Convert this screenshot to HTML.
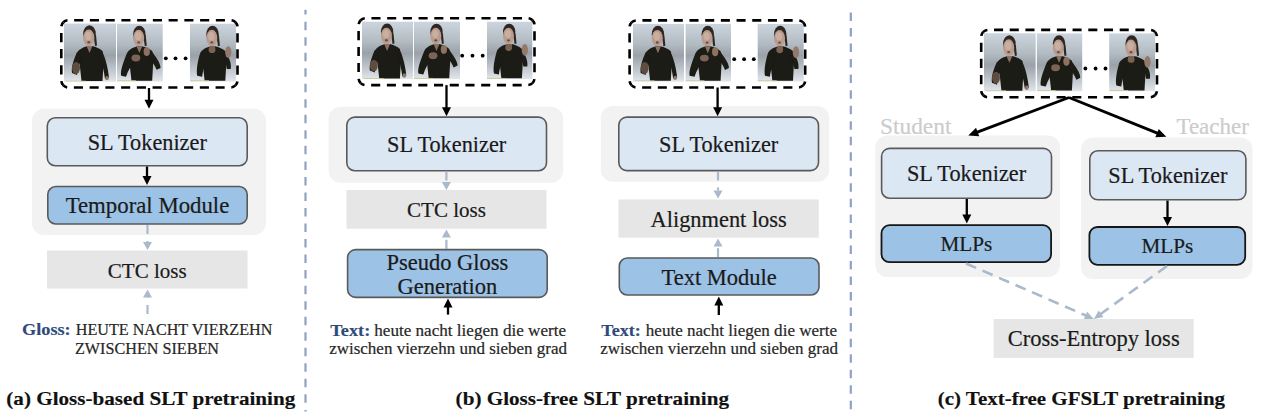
<!DOCTYPE html><html><head><meta charset="utf-8"><style>html,body{margin:0;padding:0;background:#fff;width:1268px;height:417px;overflow:hidden}svg text{font-family:"Liberation Serif",serif}</style></head><body>
<svg width="1268" height="417" viewBox="0 0 1268 417" style="display:block">
<defs>
<filter id="bl" x="-5%" y="-5%" width="110%" height="110%"><feGaussianBlur stdDeviation="0.45"/></filter>
<linearGradient id="bg" x1="0" y1="0" x2="0" y2="1">
<stop offset="0" stop-color="#cdd5de"/><stop offset="0.35" stop-color="#b2bac2"/><stop offset="0.55" stop-color="#9aa1a8"/><stop offset="0.8" stop-color="#c0c7ce"/><stop offset="1" stop-color="#e2e7eb"/>
</linearGradient>
<g id="body">
<rect x="0" y="0" width="52" height="59" fill="url(#bg)"/>
<ellipse cx="25.5" cy="10.8" rx="6.3" ry="8.6" fill="#2e2822"/>
<path d="M29.5 12 L31 23 L33 22.5 L32 12Z" fill="#2e2822"/>
<ellipse cx="24.8" cy="14.8" rx="5.6" ry="8.4" fill="#b99c8d"/>
<ellipse cx="24.3" cy="12.8" rx="3.2" ry="4.2" fill="#c8afa1"/>
<ellipse cx="24.8" cy="19.2" rx="1.5" ry="1.2" fill="#6a5048"/>
<path d="M13 30 C15 26 20 24 23.5 23 L28 23 C32 24 36 25.5 38.5 28 L39.5 40 L38.5 58 L17.5 58 L16 44Z" fill="#1d1a13"/>
<path d="M22.5 23 L25.5 30 L28.5 23Z" fill="#8c7262"/>
<rect x="2" y="57.6" width="20" height="0.9" fill="#c9c79a"/>
</g>
<g id="pose1"><use href="#body"/>
<path d="M13 29 C10 36 7 44 8 50 L13 52 C14 46 15 40 17 34Z" fill="#1d1a13"/><ellipse cx="12" cy="45" rx="4" ry="6" fill="#5e4e40"/>
<path d="M38 28 C41 34 44 44 45 55 L41 56 C40 48 38 40 36 34Z" fill="#1d1a13"/><ellipse cx="43" cy="55" rx="1.8" ry="2.2" fill="#8d7a6a"/></g>
<g id="pose2"><use href="#body"/>
<path d="M13 30 C9 40 6 48 7 53 L12 54 C14 48 17 42 21 38 L18 33Z" fill="#1d1a13"/><ellipse cx="22" cy="35" rx="4.5" ry="3.5" fill="#7c6454"/>
<path d="M38 28 C42 34 47 40 47 45 L43 47 C41 42 38 38 35 35Z" fill="#1d1a13"/><ellipse cx="33" cy="28.5" rx="3.2" ry="4.5" fill="#8d7262"/></g>
<g id="pose3"><use href="#body"/>
<path d="M13 30 C10 40 9 48 10 53 L15 54 C16 46 19 38 22 33Z" fill="#1d1a13"/><ellipse cx="25" cy="26.5" rx="3.5" ry="3.5" fill="#7a6252"/>
<path d="M38 28 C42 34 45 40 44 46 L40 46 C39 40 38 36 36 34Z" fill="#1d1a13"/><ellipse cx="41.5" cy="29" rx="3.2" ry="6" fill="#94796a"/></g>
</defs>
<svg x="64.00" y="23.50" width="52.00" height="58.20" viewBox="0 0 52 59" preserveAspectRatio="xMidYMid slice"><g filter="url(#bl)"><use href="#pose1"/></g></svg>
<svg x="117.00" y="23.50" width="45.70" height="58.20" viewBox="0 0 52 59" preserveAspectRatio="xMidYMid slice"><g filter="url(#bl)"><use href="#pose2"/></g></svg>
<svg x="190.00" y="23.50" width="46.00" height="58.20" viewBox="0 0 52 59" preserveAspectRatio="xMidYMid slice"><g filter="url(#bl)"><use href="#pose3"/></g></svg>
<circle cx="165.8" cy="58.3" r="1.9" fill="#000"/>
<circle cx="175.5" cy="58.3" r="1.9" fill="#000"/>
<circle cx="185.6" cy="58.3" r="1.9" fill="#000"/>
<path d="M63.35 22.25 A7 7 0 0 1 68.3 20.2 L230.5 20.2 A7 7 0 0 1 235.44974746 22.250252539999998" fill="none" stroke="#000" stroke-width="2.6" stroke-dasharray="9.084 6.661" stroke-dashoffset="4.542"/>
<path d="M235.45 22.25 A7 7 0 0 1 237.5 27.2 L237.5 80.5 A7 7 0 0 1 235.44974746 85.44974746" fill="none" stroke="#000" stroke-width="2.6" stroke-dasharray="9.273 6.800" stroke-dashoffset="4.637"/>
<path d="M235.45 85.45 A7 7 0 0 1 230.5 87.5 L68.3 87.5 A7 7 0 0 1 63.35025254 85.44974746" fill="none" stroke="#000" stroke-width="2.6" stroke-dasharray="9.084 6.661" stroke-dashoffset="4.542"/>
<path d="M63.35 85.45 A7 7 0 0 1 61.3 80.5 L61.3 27.2 A7 7 0 0 1 63.35025254 22.250252539999998" fill="none" stroke="#000" stroke-width="2.6" stroke-dasharray="9.273 6.800" stroke-dashoffset="4.637"/>
<line x1="149" y1="88" x2="149" y2="100.8" stroke="#000" stroke-width="2.3"/>
<polygon points="144.5,99.8 153.5,99.8 149,108.8" fill="#000"/>
<rect x="32.00" y="108.70" width="234.00" height="126.30" rx="12" fill="#f2f2f2"/>
<rect x="47.30" y="117.80" width="199.90" height="47.90" rx="8" fill="#dce7f4" stroke="#5a5a5a" stroke-width="1.6"/>
<text x="147.25" y="149.75" font-size="22.3" fill="#1a1a1a" stroke="#1a1a1a" stroke-width="0.2" font-weight="normal" text-anchor="middle">SL Tokenizer</text>
<line x1="147" y1="166.5" x2="147" y2="177" stroke="#000" stroke-width="2.3"/>
<polygon points="142.5,176 151.5,176 147,185" fill="#000"/>
<rect x="47.80" y="186.50" width="199.40" height="37.50" rx="8" fill="#9cc2e5" stroke="#5a5a5a" stroke-width="1.6"/>
<text x="147.50" y="213.25" font-size="22.8" fill="#1a1a1a" stroke="#1a1a1a" stroke-width="0.2" font-weight="normal" text-anchor="middle">Temporal Module</text>
<line x1="147.5" y1="225" x2="147.5" y2="242" stroke="#aab9cc" stroke-width="2.2" stroke-dasharray="9 7"/>
<polygon points="143.0,242 152.0,242 147.5,250" fill="#aab9cc"/>
<rect x="47.00" y="250.50" width="200.50" height="38.00" rx="0" fill="#e6e6e6"/>
<text x="147.25" y="277.50" font-size="21" fill="#1a1a1a" stroke="#1a1a1a" stroke-width="0.2" font-weight="normal" text-anchor="middle">CTC loss</text>
<line x1="147.5" y1="314" x2="147.5" y2="297.5" stroke="#aab9cc" stroke-width="2.2" stroke-dasharray="9 7"/>
<polygon points="143.0,297.5 152.0,297.5 147.5,289.5" fill="#aab9cc"/>
<text x="22.1" y="334.6" font-size="16" textLength="48.6" lengthAdjust="spacingAndGlyphs" font-weight="bold" fill="#2e4a7a" stroke="#2e4a7a" stroke-width="0.15">Gloss:</text>
<text x="75.8" y="334.6" font-size="16" textLength="196.5" lengthAdjust="spacingAndGlyphs" fill="#262626" stroke="#262626" stroke-width="0.2">HEUTE NACHT VIERZEHN</text>
<text x="75" y="353.6" font-size="16" textLength="144" lengthAdjust="spacingAndGlyphs" fill="#262626" stroke="#262626" stroke-width="0.2">ZWISCHEN SIEBEN</text>
<text x="150.80" y="405.30" font-size="18.5" fill="#111" stroke="#111" stroke-width="0.15" font-weight="bold" text-anchor="middle" textLength="289" lengthAdjust="spacingAndGlyphs">(a) Gloss-based SLT pretraining</text>
<line x1="305.5" y1="9.8" x2="305.5" y2="411.4" stroke="#8fa3bf" stroke-width="2.2" stroke-dasharray="8.5 7.03" stroke-dashoffset="3.7"/>
<line x1="850.8" y1="12.5" x2="850.8" y2="409.3" stroke="#8fa3bf" stroke-width="2.2" stroke-dasharray="8.5 7.03" stroke-dashoffset="0"/>
<svg x="362.00" y="21.50" width="51.20" height="57.80" viewBox="0 0 52 59" preserveAspectRatio="xMidYMid slice"><g filter="url(#bl)"><use href="#pose1"/></g></svg>
<svg x="414.00" y="21.50" width="46.00" height="57.80" viewBox="0 0 52 59" preserveAspectRatio="xMidYMid slice"><g filter="url(#bl)"><use href="#pose2"/></g></svg>
<svg x="487.00" y="21.50" width="45.30" height="57.80" viewBox="0 0 52 59" preserveAspectRatio="xMidYMid slice"><g filter="url(#bl)"><use href="#pose3"/></g></svg>
<circle cx="462.2" cy="55.7" r="1.9" fill="#000"/>
<circle cx="472.5" cy="55.7" r="1.9" fill="#000"/>
<circle cx="482.7" cy="55.7" r="1.9" fill="#000"/>
<path d="M360.65 20.25 A7 7 0 0 1 365.6 18.2 L527.5 18.2 A7 7 0 0 1 532.44974746 20.250252539999998" fill="none" stroke="#000" stroke-width="2.6" stroke-dasharray="9.068 6.650" stroke-dashoffset="4.534"/>
<path d="M532.45 20.25 A7 7 0 0 1 534.5 25.2 L534.5 78.1 A7 7 0 0 1 532.44974746 83.04974745999999" fill="none" stroke="#000" stroke-width="2.6" stroke-dasharray="9.216 6.758" stroke-dashoffset="4.608"/>
<path d="M532.45 83.05 A7 7 0 0 1 527.5 85.1 L365.6 85.1 A7 7 0 0 1 360.65025254 83.04974745999999" fill="none" stroke="#000" stroke-width="2.6" stroke-dasharray="9.068 6.650" stroke-dashoffset="4.534"/>
<path d="M360.65 83.05 A7 7 0 0 1 358.6 78.1 L358.6 25.2 A7 7 0 0 1 360.65025254 20.250252539999998" fill="none" stroke="#000" stroke-width="2.6" stroke-dasharray="9.216 6.758" stroke-dashoffset="4.608"/>
<rect x="328.60" y="106.70" width="234.60" height="76.00" rx="12" fill="#f2f2f2"/>
<line x1="446.5" y1="85.1" x2="446.5" y2="108.3" stroke="#000" stroke-width="2.3"/>
<polygon points="442.0,107.3 451.0,107.3 446.5,116.3" fill="#000"/>
<rect x="346.80" y="117.10" width="199.70" height="53.60" rx="8" fill="#dce7f4" stroke="#5a5a5a" stroke-width="1.6"/>
<text x="446.65" y="151.90" font-size="22.3" fill="#1a1a1a" stroke="#1a1a1a" stroke-width="0.2" font-weight="normal" text-anchor="middle">SL Tokenizer</text>
<line x1="446.4" y1="171.5" x2="446.4" y2="182" stroke="#aab9cc" stroke-width="2.2" stroke-dasharray="9 7"/>
<polygon points="441.9,182 450.9,182 446.4,190" fill="#aab9cc"/>
<rect x="346.50" y="190.00" width="200.00" height="38.70" rx="0" fill="#e6e6e6"/>
<text x="446.50" y="217.35" font-size="21" fill="#1a1a1a" stroke="#1a1a1a" stroke-width="0.2" font-weight="normal" text-anchor="middle">CTC loss</text>
<line x1="446.4" y1="248.8" x2="446.4" y2="237.5" stroke="#aab9cc" stroke-width="2.2" stroke-dasharray="9 7"/>
<polygon points="441.9,237.5 450.9,237.5 446.4,229.5" fill="#aab9cc"/>
<rect x="347.60" y="249.60" width="199.60" height="47.80" rx="8" fill="#9cc2e5" stroke="#5a5a5a" stroke-width="1.6"/>
<text x="447.40" y="270.00" font-size="22.5" fill="#1a1a1a" stroke="#1a1a1a" stroke-width="0.2" font-weight="normal" text-anchor="middle">Pseudo Gloss</text>
<text x="447.40" y="294.30" font-size="22.5" fill="#1a1a1a" stroke="#1a1a1a" stroke-width="0.2" font-weight="normal" text-anchor="middle">Generation</text>
<line x1="448" y1="314.6" x2="448" y2="306.5" stroke="#000" stroke-width="2.3"/>
<polygon points="443.5,307.5 452.5,307.5 448,298.5" fill="#000"/>
<text x="330.3" y="335.5" font-size="16.5" textLength="40" lengthAdjust="spacingAndGlyphs" font-weight="bold" fill="#2e4a7a" stroke="#2e4a7a" stroke-width="0.15">Text:</text>
<text x="374.3" y="335.5" font-size="16.5" textLength="191.7" lengthAdjust="spacingAndGlyphs" fill="#262626" stroke="#262626" stroke-width="0.2">heute nacht liegen die werte</text>
<text x="448.10" y="353.60" font-size="16.5" fill="#262626" stroke="#262626" stroke-width="0.2" font-weight="normal" text-anchor="middle" textLength="237.8" lengthAdjust="spacingAndGlyphs">zwischen vierzehn und sieben grad</text>
<text x="592.30" y="405.30" font-size="18.5" fill="#111" stroke="#111" stroke-width="0.15" font-weight="bold" text-anchor="middle" textLength="273.4" lengthAdjust="spacingAndGlyphs">(b) Gloss-free SLT pretraining</text>
<svg x="632.80" y="23.70" width="51.30" height="58.00" viewBox="0 0 52 59" preserveAspectRatio="xMidYMid slice"><g filter="url(#bl)"><use href="#pose1"/></g></svg>
<svg x="685.60" y="23.70" width="45.40" height="58.00" viewBox="0 0 52 59" preserveAspectRatio="xMidYMid slice"><g filter="url(#bl)"><use href="#pose2"/></g></svg>
<svg x="757.70" y="23.70" width="46.00" height="58.00" viewBox="0 0 52 59" preserveAspectRatio="xMidYMid slice"><g filter="url(#bl)"><use href="#pose3"/></g></svg>
<circle cx="734.2" cy="59.2" r="1.9" fill="#000"/>
<circle cx="744.1" cy="59.2" r="1.9" fill="#000"/>
<circle cx="753.8" cy="59.2" r="1.9" fill="#000"/>
<path d="M631.65 22.45 A7 7 0 0 1 636.6 20.4 L798.2 20.4 A7 7 0 0 1 803.1497474600001 22.450252539999997" fill="none" stroke="#000" stroke-width="2.6" stroke-dasharray="9.052 6.638" stroke-dashoffset="4.526"/>
<path d="M803.15 22.45 A7 7 0 0 1 805.2 27.4 L805.2 80.5 A7 7 0 0 1 803.1497474600001 85.44974746" fill="none" stroke="#000" stroke-width="2.6" stroke-dasharray="9.245 6.779" stroke-dashoffset="4.622"/>
<path d="M803.15 85.45 A7 7 0 0 1 798.2 87.5 L636.6 87.5 A7 7 0 0 1 631.65025254 85.44974746" fill="none" stroke="#000" stroke-width="2.6" stroke-dasharray="9.052 6.638" stroke-dashoffset="4.526"/>
<path d="M631.65 85.45 A7 7 0 0 1 629.6 80.5 L629.6 27.4 A7 7 0 0 1 631.65025254 22.450252539999997" fill="none" stroke="#000" stroke-width="2.6" stroke-dasharray="9.245 6.779" stroke-dashoffset="4.622"/>
<rect x="600.80" y="106.00" width="228.40" height="75.70" rx="12" fill="#f2f2f2"/>
<line x1="717.6" y1="87.5" x2="717.6" y2="108.3" stroke="#000" stroke-width="2.3"/>
<polygon points="713.1,107.3 722.1,107.3 717.6,116.3" fill="#000"/>
<rect x="618.80" y="117.10" width="199.70" height="53.50" rx="8" fill="#dce7f4" stroke="#5a5a5a" stroke-width="1.6"/>
<text x="718.65" y="151.85" font-size="22.3" fill="#1a1a1a" stroke="#1a1a1a" stroke-width="0.2" font-weight="normal" text-anchor="middle">SL Tokenizer</text>
<line x1="718" y1="171.4" x2="718" y2="190.5" stroke="#aab9cc" stroke-width="2.2" stroke-dasharray="9 7"/>
<polygon points="713.5,190.5 722.5,190.5 718,198.5" fill="#aab9cc"/>
<rect x="618.50" y="199.50" width="200.30" height="38.20" rx="0" fill="#e6e6e6"/>
<text x="718.65" y="226.60" font-size="22.4" fill="#1a1a1a" stroke="#1a1a1a" stroke-width="0.2" font-weight="normal" text-anchor="middle">Alignment loss</text>
<line x1="718" y1="257.2" x2="718" y2="246.5" stroke="#aab9cc" stroke-width="2.2" stroke-dasharray="9 7"/>
<polygon points="713.5,246.5 722.5,246.5 718,238.5" fill="#aab9cc"/>
<rect x="619.30" y="258.00" width="199.70" height="37.00" rx="8" fill="#9cc2e5" stroke="#5a5a5a" stroke-width="1.6"/>
<text x="719.15" y="284.50" font-size="22.5" fill="#1a1a1a" stroke="#1a1a1a" stroke-width="0.2" font-weight="normal" text-anchor="middle">Text Module</text>
<line x1="718.8" y1="315" x2="718.8" y2="304.5" stroke="#000" stroke-width="2.3"/>
<polygon points="714.3,305.5 723.3,305.5 718.8,296.5" fill="#000"/>
<text x="601.3" y="335.5" font-size="16.5" textLength="39.6" lengthAdjust="spacingAndGlyphs" font-weight="bold" fill="#2e4a7a" stroke="#2e4a7a" stroke-width="0.15">Text:</text>
<text x="645.8" y="335.5" font-size="16.5" textLength="191.3" lengthAdjust="spacingAndGlyphs" fill="#262626" stroke="#262626" stroke-width="0.2">heute nacht liegen die werte</text>
<text x="719.10" y="353.60" font-size="16.5" fill="#262626" stroke="#262626" stroke-width="0.2" font-weight="normal" text-anchor="middle" textLength="237.8" lengthAdjust="spacingAndGlyphs">zwischen vierzehn und sieben grad</text>
<svg x="984.00" y="33.20" width="51.80" height="58.30" viewBox="0 0 52 59" preserveAspectRatio="xMidYMid slice"><g filter="url(#bl)"><use href="#pose1"/></g></svg>
<svg x="1036.90" y="33.20" width="45.30" height="58.30" viewBox="0 0 52 59" preserveAspectRatio="xMidYMid slice"><g filter="url(#bl)"><use href="#pose2"/></g></svg>
<svg x="1109.20" y="33.20" width="45.90" height="58.30" viewBox="0 0 52 59" preserveAspectRatio="xMidYMid slice"><g filter="url(#bl)"><use href="#pose3"/></g></svg>
<circle cx="1085.4" cy="68.5" r="1.9" fill="#000"/>
<circle cx="1095.6" cy="68.5" r="1.9" fill="#000"/>
<circle cx="1105.5" cy="68.5" r="1.9" fill="#000"/>
<path d="M983.25 31.95 A7 7 0 0 1 988.2 29.9 L1150 29.9 A7 7 0 0 1 1154.94974746 31.950252539999997" fill="none" stroke="#000" stroke-width="2.6" stroke-dasharray="9.063 6.646" stroke-dashoffset="4.531"/>
<path d="M1154.95 31.95 A7 7 0 0 1 1157 36.9 L1157 90.3 A7 7 0 0 1 1154.94974746 95.24974746" fill="none" stroke="#000" stroke-width="2.6" stroke-dasharray="9.288 6.811" stroke-dashoffset="4.644"/>
<path d="M1154.95 95.25 A7 7 0 0 1 1150 97.3 L988.2 97.3 A7 7 0 0 1 983.25025254 95.24974746" fill="none" stroke="#000" stroke-width="2.6" stroke-dasharray="9.063 6.646" stroke-dashoffset="4.531"/>
<path d="M983.25 95.25 A7 7 0 0 1 981.2 90.3 L981.2 36.9 A7 7 0 0 1 983.25025254 31.950252539999997" fill="none" stroke="#000" stroke-width="2.6" stroke-dasharray="9.288 6.811" stroke-dashoffset="4.644"/>
<rect x="875.30" y="135.60" width="184.70" height="141.50" rx="12" fill="#f2f2f2"/>
<rect x="1081.00" y="137.50" width="171.50" height="141.40" rx="12" fill="#f2f2f2"/>
<text x="915.70" y="134.00" font-size="23.4" fill="#cccccc" stroke="#cccccc" stroke-width="0.2" font-weight="normal" text-anchor="middle">Student</text>
<text x="1212.70" y="134.00" font-size="23" fill="#cccccc" stroke="#cccccc" stroke-width="0.2" font-weight="normal" text-anchor="middle">Teacher</text>
<line x1="1069" y1="97.5" x2="976.72" y2="132.42" stroke="#000" stroke-width="2.9"/>
<polygon points="976.06,127.85 979.25,136.27 968.3,135.6" fill="#000"/>
<line x1="1069" y1="97.5" x2="1157.95" y2="133.43" stroke="#000" stroke-width="2.9"/>
<polygon points="1155.34,137.23 1158.71,128.88 1166.3,136.8" fill="#000"/>
<rect x="881.60" y="148.40" width="169.90" height="49.80" rx="8" fill="#dce7f4" stroke="#5a5a5a" stroke-width="1.6"/>
<text x="966.55" y="181.30" font-size="22.3" fill="#1a1a1a" stroke="#1a1a1a" stroke-width="0.2" font-weight="normal" text-anchor="middle">SL Tokenizer</text>
<line x1="966.8" y1="199" x2="966.8" y2="215.5" stroke="#000" stroke-width="2.3"/>
<polygon points="962.3,214.5 971.3,214.5 966.8,223.5" fill="#000"/>
<rect x="881.50" y="225.20" width="169.60" height="37.00" rx="8" fill="#9cc2e5" stroke="#161616" stroke-width="1.8"/>
<text x="966.30" y="250.70" font-size="21.2" fill="#1a1a1a" stroke="#1a1a1a" stroke-width="0.2" font-weight="normal" text-anchor="middle">MLPs</text>
<rect x="1089.80" y="150.80" width="156.10" height="49.00" rx="8" fill="#dce7f4" stroke="#5a5a5a" stroke-width="1.6"/>
<text x="1167.85" y="183.30" font-size="22.3" fill="#1a1a1a" stroke="#1a1a1a" stroke-width="0.2" font-weight="normal" text-anchor="middle">SL Tokenizer</text>
<line x1="1167.5" y1="200.6" x2="1167.5" y2="218.1" stroke="#000" stroke-width="2.3"/>
<polygon points="1163.0,217.1 1172.0,217.1 1167.5,226.1" fill="#000"/>
<rect x="1089.40" y="227.00" width="155.80" height="37.80" rx="8" fill="#9cc2e5" stroke="#161616" stroke-width="1.8"/>
<text x="1167.30" y="252.90" font-size="21.2" fill="#1a1a1a" stroke="#1a1a1a" stroke-width="0.2" font-weight="normal" text-anchor="middle">MLPs</text>
<line x1="966" y1="263.5" x2="1086.46" y2="315.81" stroke="#aab9cc" stroke-width="2.6" stroke-dasharray="11 7"/>
<polygon points="1083.95,319.08 1087.14,311.75 1093.8,319" fill="#aab9cc"/>
<line x1="1167" y1="266" x2="1100.28" y2="314.31" stroke="#aab9cc" stroke-width="2.6" stroke-dasharray="11 7"/>
<polygon points="1098.74,310.48 1103.44,316.96 1093.8,319" fill="#aab9cc"/>
<rect x="993.70" y="319.00" width="200.00" height="38.90" rx="0" fill="#e6e6e6"/>
<text x="1093.70" y="346.45" font-size="22.5" fill="#1a1a1a" stroke="#1a1a1a" stroke-width="0.2" font-weight="normal" text-anchor="middle">Cross-Entropy loss</text>
<text x="1081.40" y="405.40" font-size="18.5" fill="#111" stroke="#111" stroke-width="0.15" font-weight="bold" text-anchor="middle" textLength="287.3" lengthAdjust="spacingAndGlyphs">(c) Text-free GFSLT pretraining</text>
</svg></body></html>
